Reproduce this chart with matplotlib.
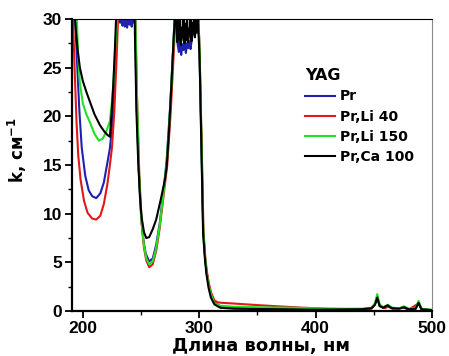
import numpy as np
import matplotlib.pyplot as plt
from matplotlib.ticker import MultipleLocator

plt.rcParams['font.family'] = ['Liberation Sans', 'DejaVu Sans']
plt.rcParams['font.weight'] = 'bold'
plt.rcParams['mathtext.fontset'] = 'custom'
plt.rcParams['mathtext.bf'] = 'DejaVu Sans:bold'
plt.rcParams['mathtext.rm'] = 'DejaVu Sans:bold'

# YAG:Pr
lam_pr = [190, 193, 195, 197, 199, 202, 205, 208, 211.5, 215, 218, 221, 223.2, 225.5, 227.5, 229.5,
          231, 232, 233, 234, 235, 236, 237, 238, 239, 240, 241, 242, 243, 244, 244.8,
          246, 248, 250, 252, 254, 257, 260, 263, 266, 269, 272, 275, 278, 279.5,
          280.5, 281.5, 282.5, 283.5, 284.5, 285.5, 286.5, 287.5, 288.5, 289.5, 290.5, 291.5,
          292.5, 293.5, 294.5, 295.5, 297, 299,
          300.5, 302, 303.4, 305, 306.3, 308, 310, 313, 318, 330, 350, 380, 410, 440,
          448, 451, 453, 455, 458, 462, 466, 472, 476, 480, 486, 488.5, 491, 500]
k_pr = [42, 31, 25.5, 20.5, 16.8, 13.9, 12.4, 11.8, 11.6, 12.1, 13.2, 15.2, 16.7, 19.5, 24, 30,
        33, 29.6, 30.4, 29.3, 30.1, 29.2, 29.9, 29.1, 30.2, 29.4, 29.8, 29.2, 30.3, 29.6, 31,
        22, 14.5, 9.8, 7.3, 5.9, 5.1, 5.4, 6.8, 9, 12, 15.5, 21, 28, 32,
        29.5, 27.3, 26.6, 27.8, 26.3, 27.4, 26.8, 27.9, 26.5, 27.5, 27.0, 28.2,
        26.9, 27.8, 28.6, 29.5, 31, 32,
        25, 16.5, 8.3, 5.5, 4.0, 2.8, 1.8, 0.9, 0.5, 0.35, 0.3, 0.25, 0.2, 0.2,
        0.3, 0.7, 1.5, 0.6, 0.35, 0.55, 0.3, 0.3, 0.4, 0.2, 0.25, 0.9, 0.2, 0.1]

# YAG:Pr,Li 40
lam_li40 = [190, 191.5, 193, 194.5, 196, 198, 201, 204, 208, 211.5, 215, 218, 221, 223, 225, 227, 229,
            230.5, 232, 243, 245, 246.5, 248.5, 250.5, 252.5, 254.5, 257, 260, 263, 266, 269,
            272.5, 275.5, 278.5, 280.5, 298, 300, 302.2, 303.6, 305.2, 306.5, 308.2, 310.2,
            313, 316, 320, 330, 350, 370, 390, 410, 440,
            448, 451, 453, 455, 460, 462, 466, 476, 480, 488.5, 491, 500]
k_li40 = [38, 30, 24.5, 19.5, 16, 13.5, 11.3, 10.1, 9.5, 9.4, 9.8, 11, 13, 14.8, 16.8, 20.5, 26,
          31, 33, 33, 31, 22, 14, 9, 6.5, 5.2, 4.5, 4.8, 6.2, 8.5, 11.5,
          15, 20.5, 27.5, 32, 32, 28, 16.5, 8.3, 5.5, 4.1, 2.9, 1.9,
          1.1, 0.9, 0.85, 0.78, 0.62, 0.48, 0.35, 0.25, 0.18,
          0.25, 0.7, 1.4, 0.5, 0.3, 0.5, 0.25, 0.35, 0.15, 0.8, 0.15, 0.1]

# YAG:Pr,Li 150
lam_li150 = [190, 193, 194.8, 196, 197.4, 200, 203, 206, 210, 213.7, 217, 220, 223.2, 225, 226.5,
             227.8, 229.2, 230.5, 244, 245, 246.5, 248.3, 250.3, 252.3, 254.3, 257, 260, 263, 266,
             269, 272, 275, 278, 279.5,
             280.5, 281.5, 282.5, 283.5, 284.5, 285.5, 286.5, 287.5, 288.5, 289.5, 290.5, 291.5,
             292.5, 293.5, 294.5, 295.5, 296.5, 297.5, 298.5, 299.5,
             300.5, 302.1, 303.5, 305.1, 306.4, 308.1, 310.1, 313, 318, 330, 350, 380, 410, 440,
             448, 451, 453, 455, 458, 462, 466, 472, 476, 480, 486, 488.5, 491, 500]
k_li150 = [40, 34, 30, 26, 23.4, 21.3, 20.2, 19.4, 18.2, 17.5, 17.7, 18.4, 19.5, 21.5, 24,
           27, 30, 33, 33, 31, 22, 14.2, 9.3, 6.9, 5.5, 4.8, 5.1, 6.5, 8.8,
           11.8, 15.2, 20.8, 27.8, 31.5,
           29.5, 28.4, 29.2, 28.0, 28.9, 27.8, 28.7, 28.1, 29.3, 28.3, 28.8, 27.9,
           29.0, 28.4, 29.4, 28.6, 29.6, 28.5, 30.5, 29,
           26, 16.5, 8.2, 5.4, 3.9, 2.7, 1.7, 0.8, 0.55, 0.45, 0.4, 0.35, 0.25, 0.25,
           0.35, 0.8, 1.75, 0.7, 0.4, 0.65, 0.35, 0.3, 0.5, 0.25, 0.3, 1.05, 0.25, 0.15]

# YAG:Pr,Ca 100
lam_ca100 = [190, 192, 194, 195.5, 197.4, 200, 203, 206, 210, 214.6, 218, 221, 223.2, 224.5, 225.8,
             227.2, 228.5, 230, 244, 244.5, 246, 247.5, 249, 250.5, 252.5, 254.5, 257, 260, 263,
             267, 270.5, 272, 274, 276, 278, 279.5,
             280.5, 281.2, 282, 282.8, 283.5, 284.2, 285, 285.8, 286.5, 287.3, 288, 288.8, 289.5,
             290.3, 291, 291.8, 292.5, 293.3, 294, 294.8, 295.5, 296.3, 297, 297.8, 298.5, 299.2,
             300.3, 301.9, 303.3, 304.9, 306.2, 308, 310, 313, 318, 330, 360, 400, 440,
             448, 451, 453, 455, 458, 462, 464, 466, 472, 476, 480, 486, 488.5, 491, 500]
k_ca100 = [36, 32, 28.8, 26.8, 25, 23.6, 22.5, 21.5, 20.2, 19.1, 18.5, 18.1, 17.9, 20, 22.5,
           26, 30, 33, 33, 30, 20.5, 15.5, 11.8, 9.6, 8.1, 7.5, 7.6, 8.4, 9.4,
           11.5, 13.5, 14.8, 18.5, 23, 28, 31,
           29.2, 27.6, 29.8, 27.9, 30.5, 27.3, 29.1, 28.0, 30.2, 27.5, 29.5, 27.8, 30.4,
           27.6, 29.0, 28.2, 30.1, 27.7, 29.6, 28.4, 30.3, 28.1, 29.8, 28.6, 30.2, 29.0,
           26, 16.5, 8.0, 5.3, 3.8, 2.4, 1.4, 0.7, 0.35, 0.25, 0.2, 0.15, 0.2,
           0.3, 0.65, 1.4, 0.55, 0.35, 0.6, 0.4, 0.3, 0.25, 0.4, 0.2, 0.25, 0.85, 0.2, 0.1]

labels = ['Pr', 'Pr,Li 40', 'Pr,Li 150', 'Pr,Ca 100']
colors = ['#2020b0', '#e01818', '#22e022', '#000000']

fig = plt.figure(figsize=(4.49, 3.56), dpi=100)
ax = fig.add_axes([0.160, 0.126, 0.802, 0.821])

series = [(lam_pr, k_pr), (lam_li40, k_li40), (lam_li150, k_li150), (lam_ca100, k_ca100)]
for (lam, k), lab, col in zip(series, labels, colors):
    ax.plot(lam, k, color=col, lw=1.5, label=lab)

ax.set_xlim(190.5, 500)
ax.set_ylim(0, 30)
ax.xaxis.set_major_locator(MultipleLocator(100))
ax.xaxis.set_minor_locator(MultipleLocator(50))
ax.yaxis.set_major_locator(MultipleLocator(5))
ax.yaxis.set_minor_locator(MultipleLocator(2.5))
ax.tick_params(which='major', direction='out', length=5, width=1.3, labelsize=12.5, pad=2)
ax.tick_params(which='minor', direction='out', length=3, width=1.0)
for lab in ax.get_xticklabels() + ax.get_yticklabels():
    lab.set_fontweight('bold')

for s in ['left', 'bottom']:
    ax.spines[s].set_linewidth(1.6)
ax.spines['top'].set_linewidth(0.8)
ax.spines['right'].set_linewidth(0.8)
ax.spines['right'].set_color('#888888')

ax.set_xlabel('Длина волны, нм', fontsize=13, fontweight='bold', family='DejaVu Sans')
ax.xaxis.set_label_coords(0.525, -0.09)
ax.set_ylabel('k, см$^{-1}$', fontsize=12, fontweight='bold', family='DejaVu Sans')
ax.yaxis.set_label_coords(-0.12, 0.55)

leg = ax.legend(title='YAG', loc='upper left', bbox_to_anchor=(0.628, 0.855), frameon=False,
                prop={'size': 10, 'weight': 'bold', 'family': 'DejaVu Sans'},
                handlelength=2.2, handletextpad=0.3, labelspacing=0.45, borderpad=0,
                alignment='left')
leg.get_title().set_fontsize(11.5)
leg.get_title().set_fontweight('bold')
leg.get_title().set_family('DejaVu Sans')

fig.savefig('out.png', dpi=100)
